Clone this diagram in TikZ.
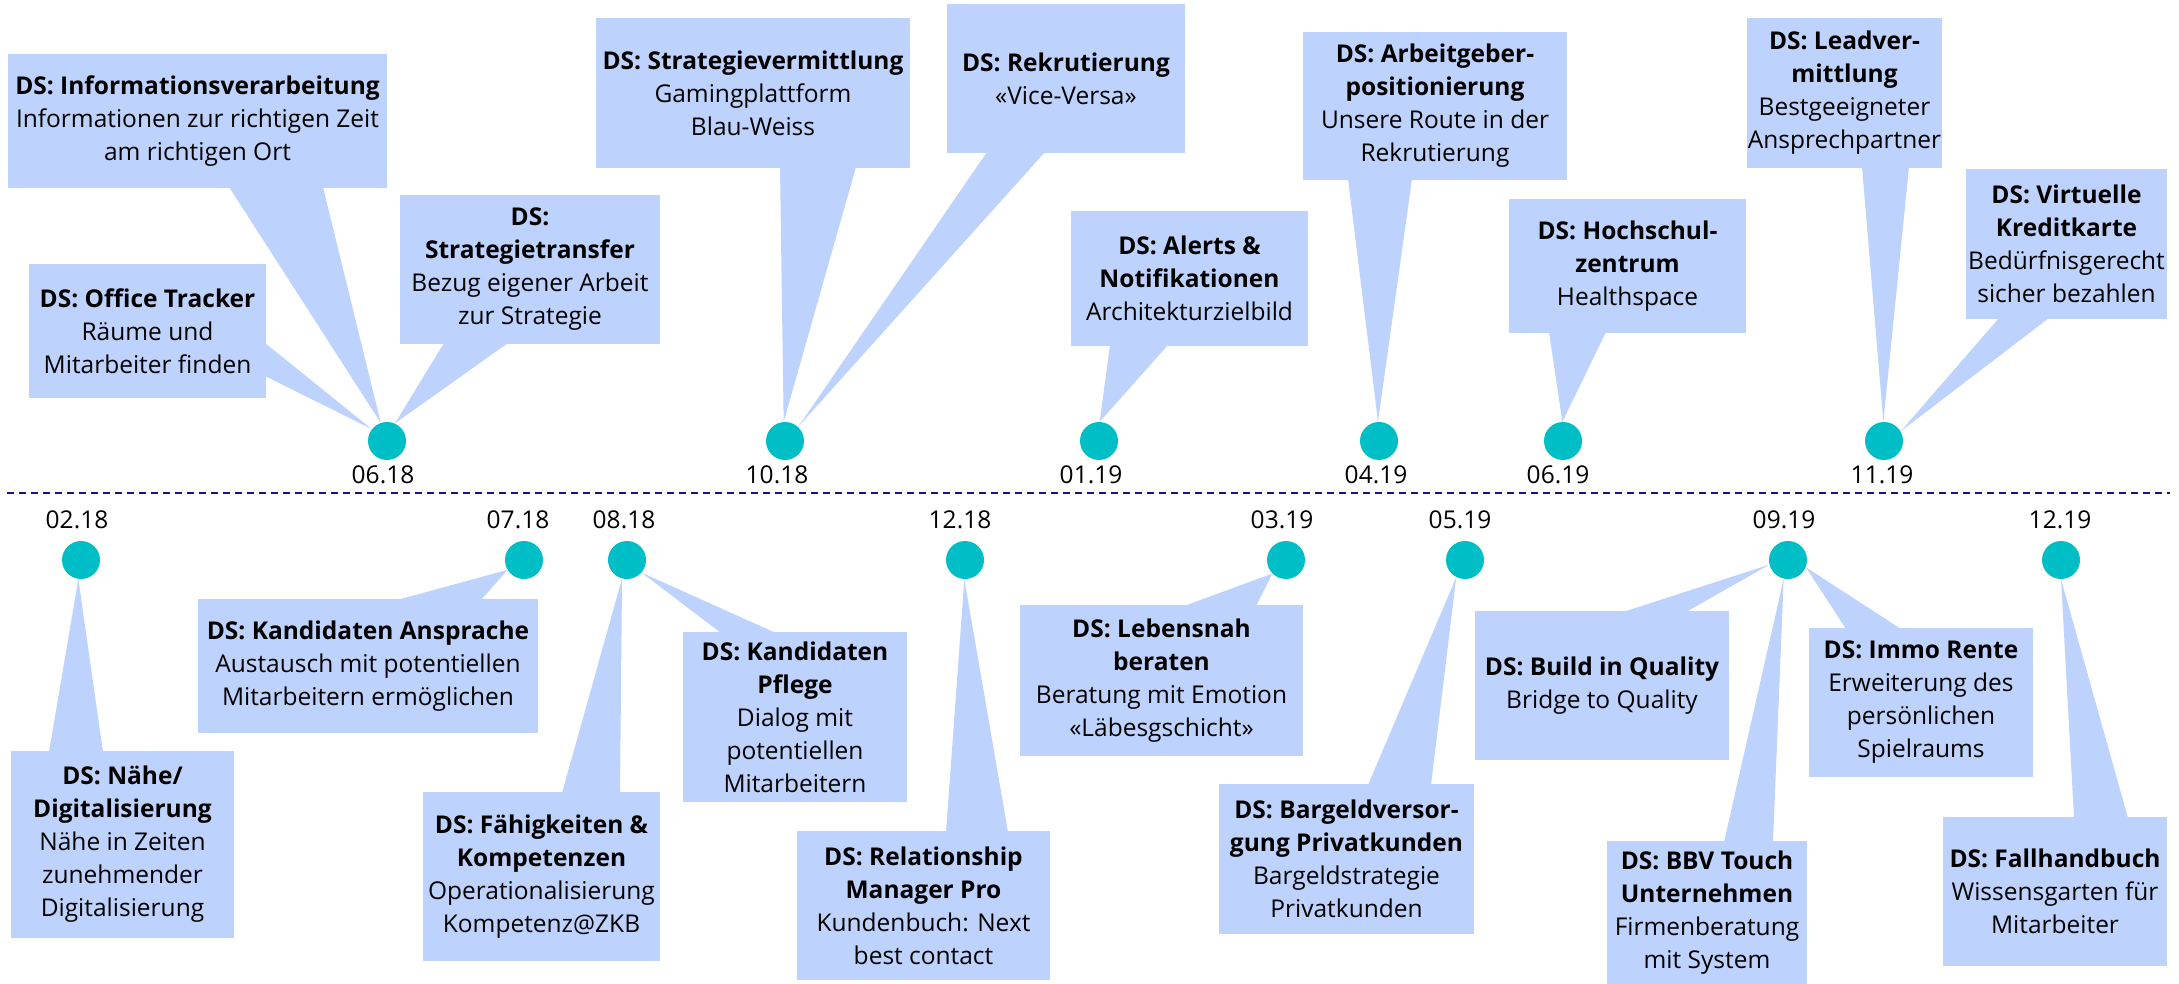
\documentclass[tikz,border=0pt]{standalone}
\usepackage{fontspec}
\setmainfont{Open Sans}
\definecolor{boxblue}{HTML}{BDD3FE}
\definecolor{dotteal}{HTML}{00BEC6}
\definecolor{linenavy}{HTML}{141487}
\pgfdeclarelayer{background}
\pgfsetlayers{background,main}
\begin{document}
\begin{tikzpicture}[x=1pt,y=-1pt,
  box/.style={fill=boxblue, inner sep=0pt, align=center, text=black, font=\fontsize{24.5}{33}\selectfont},
  tail/.style={fill=boxblue},
  dot/.style={circle, fill=dotteal, minimum size=38pt, inner sep=0pt},
  datelabel/.style={inner sep=0pt, text=black, font=\fontsize{24.5}{30}\selectfont},
  timeline/.style={draw=linenavy, line width=2pt, dash pattern=on 7pt off 5pt}]
\useasboundingbox (0,0) rectangle (2179,984);

% timeline
\coordinate (lineL) at (7,493);
\coordinate (lineR) at (2170,493);
\draw[timeline] (lineL) -- (lineR);

% dots upper
\node[dot] (d0618) at (387,441) {};
\node[dot] (d1018) at (785,441) {};
\node[dot] (d0119) at (1099,441) {};
\node[dot] (d0419) at (1379,441) {};
\node[dot] (d0619) at (1563,441) {};
\node[dot] (d1119) at (1884,441) {};
% dots lower
\node[dot] (d0218) at (81,560) {};
\node[dot] (d0718) at (524,560) {};
\node[dot] (d0818) at (627,560) {};
\node[dot] (d1218) at (965,560) {};
\node[dot] (d0319) at (1286,560) {};
\node[dot] (d0519) at (1465,560) {};
\node[dot] (d0919) at (1788,560) {};
\node[dot] (d1219) at (2061,560) {};

% date labels
\node[datelabel] (l0618) at (383,475) {06.18};
\node[datelabel] (l1018) at (777,475) {10.18};
\node[datelabel] (l0119) at (1091,475) {01.19};
\node[datelabel] (l0419) at (1376,475) {04.19};
\node[datelabel] (l0619) at (1558,475) {06.19};
\node[datelabel] (l1119) at (1882,475) {11.19};
\node[datelabel] (l0218) at (77,520) {02.18};
\node[datelabel] (l0718) at (518,520) {07.18};
\node[datelabel] (l0818) at (624,520) {08.18};
\node[datelabel] (l1218) at (960,520) {12.18};
\node[datelabel] (l0319) at (1282,520) {03.19};
\node[datelabel] (l0519) at (1460,520) {05.19};
\node[datelabel] (l0919) at (1784,520) {09.19};
\node[datelabel] (l1219) at (2060,520) {12.19};

% boxes upper
\node[box, minimum width=379pt, minimum height=134pt] (info) at (197.5,121)
  {\textbf{DS: Informationsverarbeitung}\\Informationen zur richtigen Zeit\\am richtigen Ort};
\node[box, minimum width=237pt, minimum height=134pt] (office) at (147.5,331)
  {\textbf{DS: Office Tracker}\\Räume und\\Mitarbeiter finden};
\node[box, minimum width=260pt, minimum height=149pt] (strattrans) at (530,269.5)
  {\textbf{DS:}\\\textbf{Strategietransfer}\\Bezug eigener Arbeit\\zur Strategie};
\node[box, minimum width=314pt, minimum height=150pt] (stratverm) at (753,93)
  {\textbf{DS: Strategievermittlung}\\Gamingplattform\\Blau-Weiss};
\node[box, minimum width=238pt, minimum height=149pt] (rekr) at (1066,78.5)
  {\textbf{DS: Rekrutierung}\\«Vice-Versa»};
\node[box, minimum width=237pt, minimum height=135pt] (alerts) at (1189.5,278.5)
  {\textbf{DS: Alerts \&}\\\textbf{Notifikationen}\\Architekturzielbild};
\node[box, minimum width=264pt, minimum height=148pt] (arbeit) at (1435,106)
  {\textbf{DS: Arbeitgeber-}\\\textbf{positionierung}\\Unsere Route in der\\Rekrutierung};
\node[box, minimum width=237pt, minimum height=134pt] (hoch) at (1627.5,266)
  {\textbf{DS: Hochschul-}\\\textbf{zentrum}\\Healthspace};
\node[box, minimum width=195pt, minimum height=150pt] (lead) at (1844.5,93)
  {\textbf{DS: Leadver-}\\\textbf{mittlung}\\Bestgeeigneter\\Ansprechpartner};
\node[box, minimum width=201pt, minimum height=150pt] (virt) at (2066.5,244)
  {\textbf{DS: Virtuelle}\\\textbf{Kreditkarte}\\Bedürfnisgerecht\\sicher bezahlen};

% boxes lower
\node[box, minimum width=223pt, minimum height=187pt] (naehe) at (122.5,844.5)
  {\textbf{DS: Nähe/}\\\textbf{Digitalisierung}\\Nähe in Zeiten\\zunehmender\\Digitalisierung};
\node[box, minimum width=340pt, minimum height=134pt] (kandansp) at (368,666)
  {\textbf{DS: Kandidaten Ansprache}\\Austausch mit potentiellen\\Mitarbeitern ermöglichen};
\node[box, minimum width=237pt, minimum height=169pt] (faehig) at (541.5,876.5)
  {\textbf{DS: Fähigkeiten \&}\\\textbf{Kompetenzen}\\Operationalisierung\\Kompetenz@ZKB};
\node[box, minimum width=224pt, minimum height=170pt] (pflege) at (795,717)
  {\textbf{DS: Kandidaten}\\\textbf{Pflege}\\Dialog mit\\potentiellen\\Mitarbeitern};
\node[box, minimum width=253pt, minimum height=149pt] (relat) at (923.5,905.5)
  {\textbf{DS: Relationship}\\\textbf{Manager Pro}\\Kundenbuch: Next\\best contact};
\node[box, minimum width=283pt, minimum height=151pt] (lebens) at (1161.5,680.5)
  {\textbf{DS: Lebensnah}\\\textbf{beraten}\\Beratung mit Emotion\\«Läbesgschicht»};
\node[box, minimum width=255pt, minimum height=150pt] (bargeld) at (1346.5,859)
  {\textbf{DS: Bargeldversor-}\\\textbf{gung Privatkunden}\\Bargeldstrategie\\Privatkunden};
\node[box, minimum width=254pt, minimum height=149pt] (build) at (1602,685.5)
  {\textbf{DS: Build in Quality}\\Bridge to Quality};
\node[box, minimum width=200pt, minimum height=143pt] (bbv) at (1707,912.5)
  {\textbf{DS: BBV Touch}\\\textbf{Unternehmen}\\Firmenberatung\\mit System};
\node[box, minimum width=224pt, minimum height=149pt] (immo) at (1921,702.5)
  {\textbf{DS: Immo Rente}\\Erweiterung des\\persönlichen\\Spielraums};
\node[box, minimum width=224pt, minimum height=149pt] (fall) at (2055,891.5)
  {\textbf{DS: Fallhandbuch}\\Wissensgarten für\\Mitarbeiter};

% callout tails
\begin{pgfonlayer}{background}
\fill[tail] (229,187) -- (323,187) -- (d0618.109) -- cycle;
\fill[tail] (265,343) -- (265,376) -- (d0618.142) -- cycle;
\fill[tail] (444,343) -- (508,343) -- (d0618.66) -- cycle;
\fill[tail] (780,167) -- (856,167) -- (d1018.94) -- cycle;
\fill[tail] (987,152) -- (1045,152) -- (d1018.47) -- cycle;
\fill[tail] (1110,345) -- (1168,345) -- (d0119.88) -- cycle;
\fill[tail] (1348,179) -- (1412,179) -- (d0419.93) -- cycle;
\fill[tail] (1549,332) -- (1606,332) -- (d0619.92) -- cycle;
\fill[tail] (1862,167) -- (1909,167) -- (d1119.92) -- cycle;
\fill[tail] (1999,318) -- (2049,318) -- (d1119.30) -- cycle;
\fill[tail] (49,752) -- (103,752) -- (d0218.262) -- cycle;
\fill[tail] (397,600) -- (481,600) -- (d0718.211) -- cycle;
\fill[tail] (562,793) -- (620,793) -- (d0818.255) -- cycle;
\fill[tail] (721,633) -- (776,633) -- (d0818.319) -- cycle;
\fill[tail] (946,832) -- (1008,832) -- (d1218.268) -- cycle;
\fill[tail] (1184,606) -- (1256,606) -- (d0319.225) -- cycle;
\fill[tail] (1368,785) -- (1431,785) -- (d0519.243) -- cycle;
\fill[tail] (1623,612) -- (1686,612) -- (d0919.194) -- cycle;
\fill[tail] (1724,842) -- (1773,842) -- (d0919.257) -- cycle;
\fill[tail] (1846,629) -- (1901,629) -- (d0919.338) -- cycle;
\fill[tail] (2074,818) -- (2128,818) -- (d1219.270) -- cycle;
\end{pgfonlayer}
\end{tikzpicture}
\end{document}
